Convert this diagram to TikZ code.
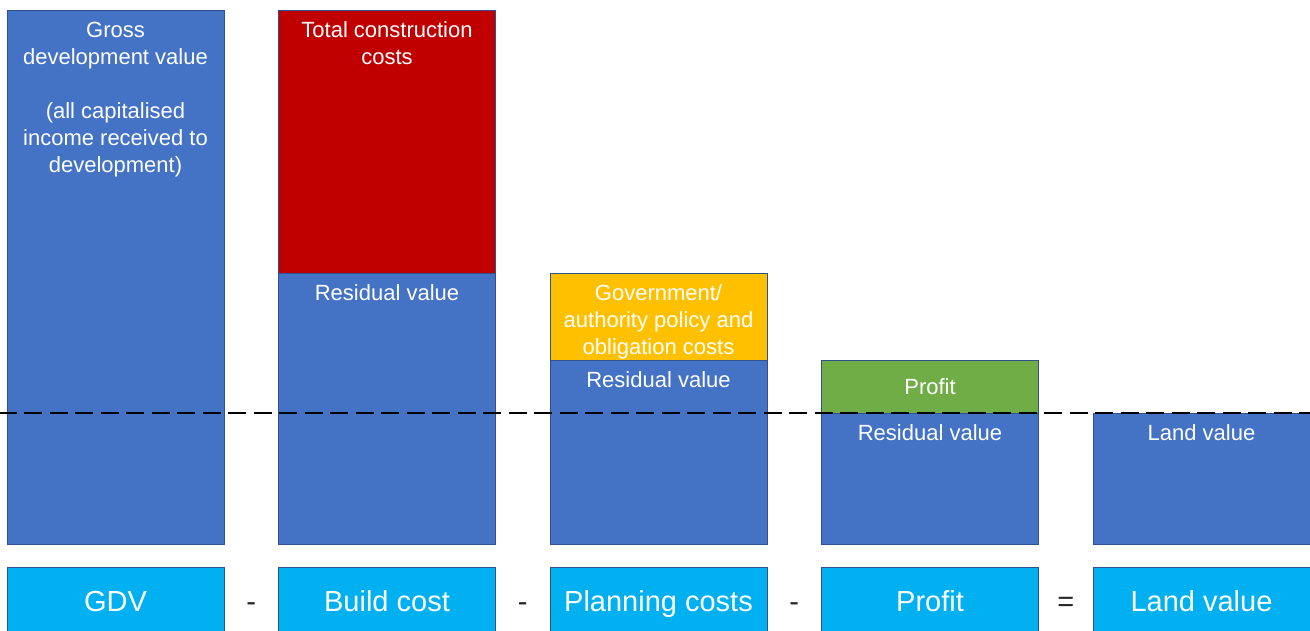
\documentclass[tikz,border=0pt]{standalone}
\usepackage{fontspec}
\setmainfont{Liberation Sans}
\usetikzlibrary{calc}

\definecolor{barblue}{HTML}{4472C4}
\definecolor{costred}{HTML}{C00000}
\definecolor{policyyellow}{HTML}{FFC000}
\definecolor{profitgreen}{HTML}{70AD47}
\definecolor{keycyan}{HTML}{00B0F0}
\definecolor{edgeblue}{HTML}{2F528F}
\definecolor{optext}{HTML}{262626}

\tikzset{
  bar/.style={draw=edgeblue, line width=1pt, anchor=north west,
    minimum width=217pt, inner sep=0pt, outer sep=0pt},
  lbl/.style={anchor=north, inner sep=0pt, text=white, align=center,
    font=\fontsize{22}{27}\selectfont},
  keybox/.style={draw=edgeblue, line width=1pt, fill=keycyan, anchor=north west,
    minimum width=217pt, minimum height=68pt, inner sep=0pt, outer sep=0pt,
    text height=26pt, text depth=6pt,
    text=white, font=\fontsize{29}{34}\selectfont},
  op/.style={anchor=base, inner sep=0pt, text=optext,
    font=\fontsize{29}{34}\selectfont},
  dashline/.style={black, line width=2.5pt, dash pattern=on 18pt off 7.5pt}
}

\begin{document}
\begin{tikzpicture}[x=1pt,y=-1pt]
\useasboundingbox (0,0) rectangle (1310,630);

% stacked bars
\node[bar, fill=barblue, minimum height=534pt] (gdvbar) at (7,10) {};
\node[bar, fill=costred, minimum height=263pt] (costbar) at (278.5,10) {};
\node[bar, fill=barblue, minimum height=271pt] (resid2) at (278.5,273) {};
\node[bar, fill=policyyellow, minimum height=87pt] (govbar) at (550,273) {};
\node[bar, fill=barblue, minimum height=184pt] (resid3) at (550,360) {};
\node[bar, fill=profitgreen, minimum height=53pt] (profitbar) at (821.5,360) {};
\node[bar, fill=barblue, minimum height=131pt] (resid4) at (821.5,413) {};
\node[bar, fill=barblue, minimum height=131pt] (landbar) at (1093,413) {};

% bar labels
\node[lbl] (tgdv) at ($(gdvbar.north)+(0,8)$)
  {\strut Gross\\development value\\[27pt](all capitalised\\income received to\\development)};
\node[lbl] (tcost) at ($(costbar.north)+(0,8)$) {\strut Total construction\\costs};
\node[lbl] (tres2) at ($(resid2.north)+(0,8)$) {\strut Residual value};
\node[lbl] (tgov) at ($(govbar.north)+(0,8)$)
  {\strut Government/\\authority policy and\\obligation costs};
\node[lbl] (tres3) at ($(resid3.north)+(0,8)$) {\strut Residual value};
\node[lbl, anchor=center] (tprofit) at (profitbar.center) {Profit};
\node[lbl] (tres4) at ($(resid4.north)+(0,8)$) {\strut Residual value};
\node[lbl] (tland) at ($(landbar.north)+(0,8)$) {\strut Land value};

% residual level
\coordinate (dl) at (-1.5,413);
\coordinate (dr) at (1312,413);
\draw[dashline] (dl) -- (dr);

% equation row
\node[keybox] (kgdv) at (7,567) {GDV};
\node[keybox] (kbuild) at (278.5,567) {Build cost};
\node[keybox] (kplan) at (550,567) {Planning costs};
\node[keybox] (kprofit) at (821.5,567) {Profit};
\node[keybox] (kland) at (1093,567) {Land value};

\node[op] (op1) at ($($(kgdv.east)!0.5!(kbuild.west)$)+(0,10)$) {-};
\node[op] (op2) at ($($(kbuild.east)!0.5!(kplan.west)$)+(0,10)$) {-};
\node[op] (op3) at ($($(kplan.east)!0.5!(kprofit.west)$)+(0,10)$) {-};
\node[op] (op4) at ($($(kprofit.east)!0.5!(kland.west)$)+(0,10)$) {=};
\end{tikzpicture}
\end{document}
